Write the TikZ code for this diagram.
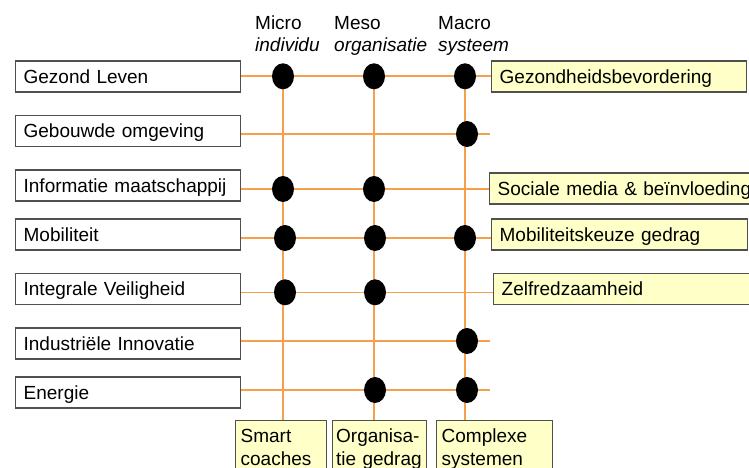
\documentclass[tikz,border=0pt]{standalone}
\usepackage{fontspec}
\setmainfont{Liberation Sans}
\usetikzlibrary{shapes.geometric,calc}
\definecolor{oline}{HTML}{F7A04B}
\definecolor{yfill}{HTML}{FFFFC8}
\definecolor{bord}{HTML}{505050}
\tikzset{
  txt/.style={font=\fontsize{19}{23}\selectfont},
  lbox/.style={txt, draw=bord, line width=1.3pt, fill=white, anchor=west,
    minimum height=31pt, text width=209pt, inner xsep=8pt, inner ysep=0pt, align=left,
    text height=13.8pt, text depth=0pt},
  rbox/.style={lbox, fill=yfill},
  bbox/.style={txt, draw=bord, line width=1.3pt, fill=yfill, anchor=north west,
    align=left, inner xsep=5pt, inner ysep=8pt, text height=13.8pt},
  ol/.style={draw=oline, line width=1.6pt},
  dot/.style={ellipse, fill=black, minimum width=22pt, minimum height=26pt, inner sep=0pt},
  hdr/.style={txt, anchor=base west, inner sep=0pt}
}
\begin{document}
\begin{tikzpicture}[x=1pt,y=-1pt]
\useasboundingbox (0,0) rectangle (749,468);
\clip (0,0) rectangle (749,468);
% headers
\node[hdr] (h1) at (255,29.3) {Micro};
\node[hdr] (h1b) at (255,52) {\itshape individu};
\node[hdr] (h2) at (334,29.3) {Meso};
\node[hdr] (h2b) at (334,52) {\itshape organisatie};
\node[hdr] (h3) at (438,29.3) {Macro};
\node[hdr] (h3b) at (438,52) {\itshape systeem};
% left boxes
\node[lbox] (b1) at (15,76.5) {Gezond Leven};
\node[lbox] (b2) at (15,131) {Gebouwde omgeving};
\node[lbox] (b3) at (15,185.5) {Informatie maatschappij};
\node[lbox] (b4) at (15,234.5) {Mobiliteit};
\node[lbox] (b5) at (15,289) {Integrale Veiligheid};
\node[lbox] (b6) at (15,343.5) {Industriële Innovatie};
\node[lbox] (b7) at (15,392.5) {Energie};
% right boxes
\node[rbox, text width=239pt] (r1) at (491,76.5) {Gezondheidsbevordering};
\node[rbox, text width=255pt] (r3) at (489,188.5) {Sociale media \& beïnvloeding};
\node[rbox, text width=240pt] (r4) at (491,234.5) {Mobiliteitskeuze gedrag};
\node[rbox, text width=255pt] (r5) at (493,289) {Zelfredzaamheid};
% bottom boxes
\node[bbox, text width=81pt] (s1) at (235,420) {Smart\\coaches};
\node[bbox, text width=87pt, inner xsep=3.5pt] (s2) at (332,420) {Organisa-\\tie gedrag};
\node[bbox, text width=106pt] (s3) at (436,420) {Complexe\\systemen};
% row and column coordinates
\coordinate (y1) at (490,76.3);
\coordinate (y2) at (490,134);
\coordinate (y3) at (490,189);
\coordinate (y4) at (490,238);
\coordinate (y5) at (490,292.3);
\coordinate (y6) at (490,341);
\coordinate (y7) at (490,390);
\coordinate (cmi) at (283,76.3);
\coordinate (cme) at (374,76.3);
\coordinate (cma) at (465,76.3);
% horizontal lines
\draw[ol] (y1 -| b1.east) -- (y1 -| r1.west);
\draw[ol] (y2 -| b2.east) -- (y2);
\draw[ol] (y3 -| b3.east) -- (y3 -| r3.west);
\draw[ol] (y4 -| b4.east) -- (y4 -| r4.west);
\draw[ol] (y5 -| b5.east) -- (y5 -| r5.west);
\draw[ol] (y6 -| b6.east) -- (y6);
\draw[ol] (y7 -| b7.east) -- (y7);
% vertical lines
\draw[ol] (cmi) -- (cmi |- s1.north);
\draw[ol] (cme) -- (cme |- s2.north);
\draw[ol] (cma) -- (cma |- s3.north);
% dots
\node[dot] (d11) at (y1 -| cmi) {};
\node[dot] (d12) at (y1 -| cme) {};
\node[dot] (d13) at (y1 -| cma) {};
\node[dot] (d23) at ($(y2 -| cma)+(2,0)$) {};
\node[dot] (d31) at (y3 -| cmi) {};
\node[dot] (d32) at (y3 -| cme) {};
\node[dot] (d41) at ($(y4 -| cmi)+(2,0)$) {};
\node[dot] (d42) at ($(y4 -| cme)+(1,0)$) {};
\node[dot] (d43) at (y4 -| cma) {};
\node[dot] (d51) at ($(y5 -| cmi)+(2,0)$) {};
\node[dot] (d52) at ($(y5 -| cme)+(1,0)$) {};
\node[dot] (d63) at ($(y6 -| cma)+(2,0)$) {};
\node[dot] (d72) at ($(y7 -| cme)+(1,0)$) {};
\node[dot] (d73) at ($(y7 -| cma)+(2,0)$) {};
\end{tikzpicture}
\end{document}
